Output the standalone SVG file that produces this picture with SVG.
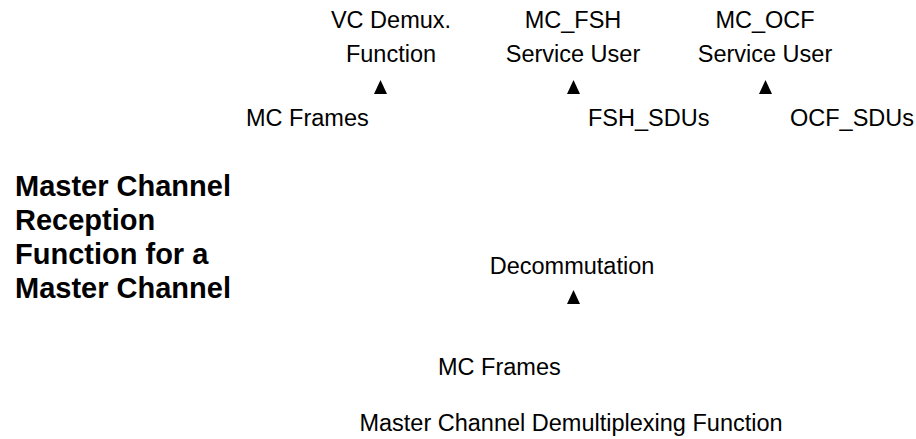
<svg xmlns="http://www.w3.org/2000/svg" width="916" height="439" viewBox="0 0 916 439">
<style>
text{font-family:"Liberation Sans",Arial,sans-serif;fill:#000}
.t{font-size:23.5px}
.b{font-size:29px;font-weight:bold}
.m{text-anchor:middle}
.arr{fill:#000}
</style>
<defs>
<path id="tri" d="M0,0 L6.5,14 L-6.5,14 Z"/>
</defs>
<rect width="916" height="439" fill="#fff"/>
<g id="vc-demux"><text class="t m" x="391" y="28">VC Demux.</text><text class="t m" x="391" y="62">Function</text></g>
<g id="mc-fsh"><text class="t m" x="573" y="28">MC_FSH</text><text class="t m" x="573" y="62">Service User</text></g>
<g id="mc-ocf"><text class="t m" x="765" y="28">MC_OCF</text><text class="t m" x="765" y="62">Service User</text></g>
<g id="title"><text class="b" x="15" y="196">Master Channel</text><text class="b" x="15" y="230">Reception</text><text class="b" x="15" y="264">Function for a</text><text class="b" x="15" y="298">Master Channel</text></g>
<g id="decom"><text class="t m" x="572" y="274">Decommutation</text></g>
<g id="demux"><text class="t m" x="571" y="431">Master Channel Demultiplexing Function</text></g>
<g id="connectors">
<use href="#tri" class="arr" x="380.5" y="80"/>
<use href="#tri" class="arr" x="573.5" y="80"/>
<use href="#tri" class="arr" x="765.5" y="80"/>
<use href="#tri" class="arr" x="573.5" y="290"/>
<text class="t" x="246" y="126">MC Frames</text>
<text class="t" x="588" y="126">FSH_SDUs</text>
<text class="t" x="790" y="126">OCF_SDUs</text>
<text class="t" x="438" y="375">MC Frames</text>
</g>
</svg>
